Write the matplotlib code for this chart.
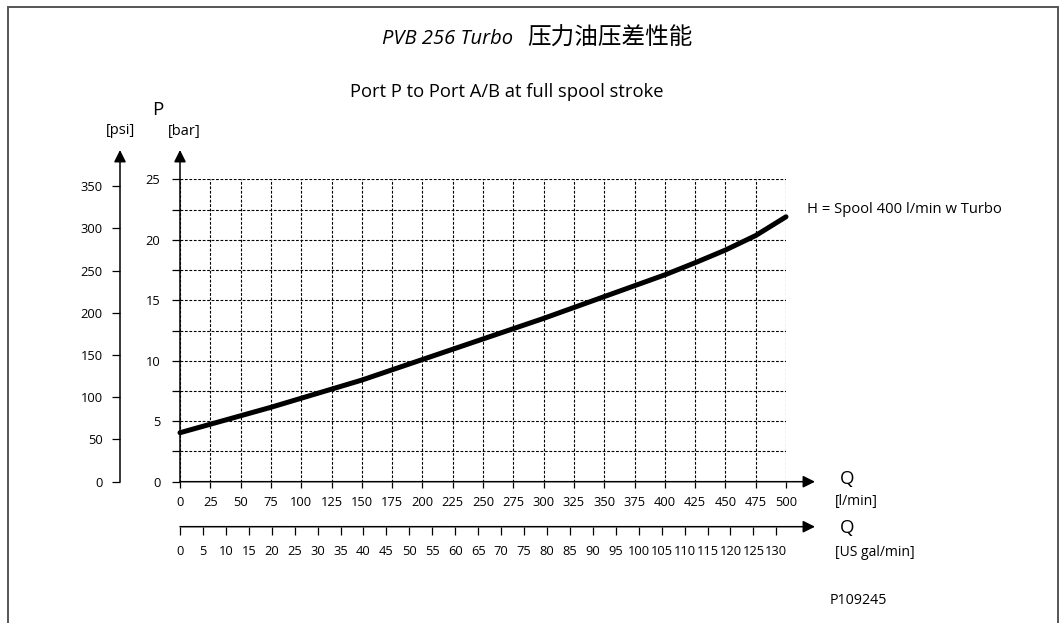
import numpy as np
import matplotlib.pyplot as plt
from matplotlib.patches import Rectangle

plt.rcParams['font.family'] = ['Open Sans', 'DejaVu Sans']

# values
flow_lpm = [0, 25, 50, 75, 100, 125, 150, 175, 200, 225, 250,
            275, 300, 325, 350, 375, 400, 425, 450, 475, 500]
pressure_bar = [4.05, 4.75, 5.45, 6.15, 6.9, 7.65, 8.4, 9.25, 10.1, 10.95, 11.8,
                12.65, 13.5, 14.4, 15.3, 16.2, 17.1, 18.1, 19.15, 20.35, 21.9]
bar_ticks = [0, 5, 10, 15, 20, 25]
bar_minor = [2.5, 7.5, 12.5, 17.5, 22.5]
psi_ticks = [0, 50, 100, 150, 200, 250, 300, 350]
lpm_ticks = list(range(0, 501, 25))
gal_ticks = list(range(0, 131, 5))
psi_top = 358          # psi value level with 25 bar on the drawn scale
gal_max = 500 / 3.785  # US gal/min at 500 l/min

title_latin = 'PVB 256 Turbo'
title_cjk = '压力油压差性能'
subtitle = 'Port P to Port A/B at full spool stroke'
curve_label = 'H = Spool 400 l/min w Turbo'

W, H = 1061, 623
def fx(px):
    return px / W
def fy(py):
    return 1 - py / H

fig = plt.figure(figsize=(10.61, 6.23), dpi=100)

# pixel box of the grid
L, R, T, B = 180, 786, 179.3, 481.7
arrow = dict(arrowstyle='-|>', mutation_scale=18, lw=1.1, color='black',
             shrinkA=0, shrinkB=0)

ax = fig.add_axes([fx(L), fy(B), fx(R) - fx(L), fy(T) - fy(B)])
ax.set_xlim(0, 500)
ax.set_ylim(0, 25)
for s in ax.spines.values():
    s.set_visible(False)
ax.set_xticks(lpm_ticks)
ax.set_yticks(bar_ticks)
ax.set_yticks(bar_minor, minor=True)
ax.grid(True, which='both', ls=(0, (2.5, 1.5)), lw=0.8, color='black')
ax.tick_params(axis='x', direction='out', length=4, width=0.9, pad=6.5, labelsize=9.3)
ax.tick_params(axis='y', which='both', direction='out', length=6, width=0.9,
               pad=8, labelsize=9.3)
ax.tick_params(axis='y', which='minor', labelleft=False)
ax.annotate('', xy=((815 - L) / (R - L), 0), xytext=(0, 0), xycoords='axes fraction',
            arrowprops=arrow, annotation_clip=False)
ax.annotate('', xy=(0, (B - 150) / (B - T)), xytext=(0, 0), xycoords='axes fraction',
            arrowprops=arrow, annotation_clip=False)

ax.plot(flow_lpm, pressure_bar, color='black', lw=3.6, solid_capstyle='round',
        solid_joinstyle='round', zorder=5, clip_on=False)

# psi axis
axp = fig.add_axes([fx(120), fy(B), 0.0001, fy(T) - fy(B)])
axp.set_ylim(0, psi_top)
for s in axp.spines.values():
    s.set_visible(False)
axp.set_xticks([])
axp.set_yticks(psi_ticks)
axp.tick_params(axis='y', direction='out', length=6, width=0.9, pad=6.5, labelsize=9.3)
axp.patch.set_visible(False)
axp.annotate('', xy=(0, (B - 150) / (B - T)), xytext=(0, 0), xycoords='axes fraction',
             arrowprops=arrow, annotation_clip=False)

# US gal/min axis
G = 526.7
axg = fig.add_axes([fx(L), fy(G), fx(R) - fx(L), 0.0001])
axg.set_xlim(0, gal_max)
for s in axg.spines.values():
    s.set_visible(False)
axg.set_yticks([])
axg.set_xticks(gal_ticks)
axg.tick_params(axis='x', direction='out', length=6, width=0.9, pad=7.5, labelsize=9.3)
axg.patch.set_visible(False)
axg.annotate('', xy=((815 - L) / (R - L), 0), xytext=(0, 0), xycoords='axes fraction',
             arrowprops=arrow, annotation_clip=False)

# texts
fig.text(fx(513), fy(44.5), title_latin, ha='right', va='baseline', fontsize=14.5,
         style='italic', family=['Open Sans', 'DejaVu Sans'])
fig.text(fx(527), fy(45), title_cjk, ha='left', va='baseline', fontsize=17,
         style='italic', family=['Noto Sans CJK SC', 'DejaVu Sans'])
fig.text(fx(507), fy(92), subtitle, ha='center', va='center', fontsize=13.2)
fig.text(fx(807), fy(209), curve_label, ha='left', va='center', fontsize=10.6)

fig.text(fx(158), fy(110), 'P', ha='center', va='center', fontsize=13.5)
fig.text(fx(120.5), fy(131), '[psi]', ha='center', va='center', fontsize=10.5)
fig.text(fx(184), fy(131), '[bar]', ha='center', va='center', fontsize=10.5)
fig.text(fx(840), fy(479), 'Q', ha='left', va='center', fontsize=13.5)
fig.text(fx(835), fy(502), '[l/min]', ha='left', va='center', fontsize=10)
fig.text(fx(840), fy(528), 'Q', ha='left', va='center', fontsize=13.5)
fig.text(fx(835), fy(552), '[US gal/min]', ha='left', va='center', fontsize=10)
fig.text(fx(830), fy(600), 'P109245', ha='left', va='center', fontsize=10.3)

# page frame, bottom edge runs off the picture
fig.add_artist(Rectangle((fx(8), fy(660)), fx(1058) - fx(8), fy(7) - fy(660),
                         transform=fig.transFigure, fill=False,
                         edgecolor='#555555', lw=1.4))

fig.savefig('out.png', dpi=100)
